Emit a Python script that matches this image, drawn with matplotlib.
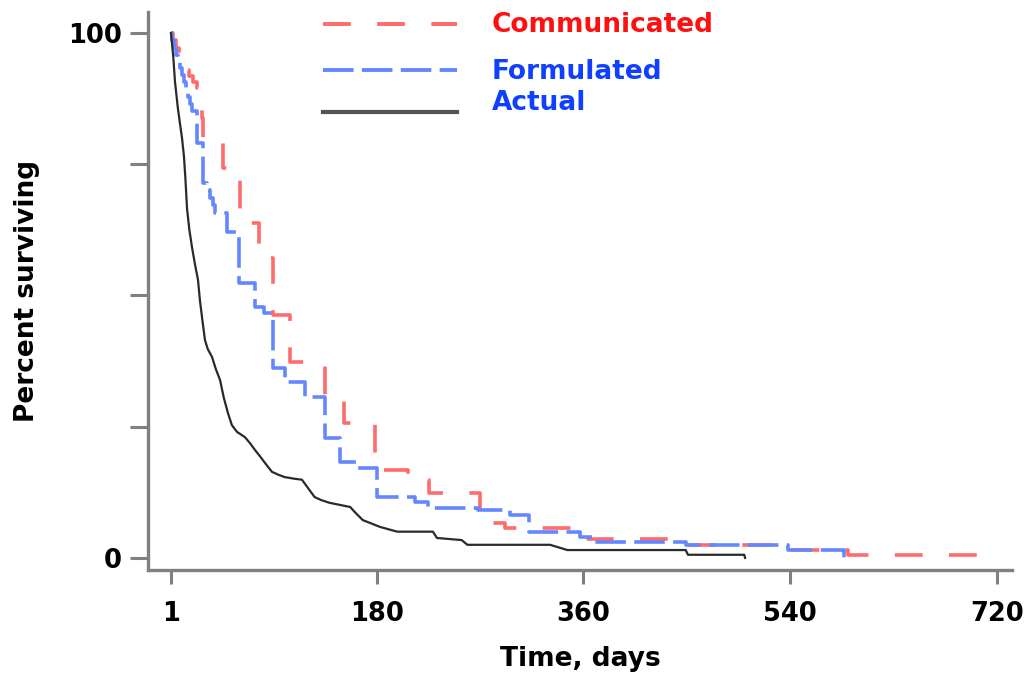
import matplotlib
matplotlib.use('Agg')
import matplotlib.pyplot as plt
from matplotlib.lines import Line2D

plt.rcParams['font.family'] = ['DejaVu Sans']
plt.rcParams['lines.scale_dashes'] = False

# Communicated (red dashed step curve)
comm_days = [1, 3, 5, 8, 11, 13, 17, 20, 24, 25, 27, 28, 29, 46, 61, 78, 90, 105,
             135, 152, 179, 207, 226, 270, 292, 364, 451, 538, 590, 720]
comm_pct = [100, 98.7, 97.1, 95.6, 94.1, 93.0, 91.8, 90.7, 89.5, 87.6, 85.7, 83.8,
            79.2, 74.3, 63.8, 57.1, 46.3, 37.3, 30.1, 25.7, 16.8, 14.9, 12.4, 6.7,
            5.7, 3.6, 2.5, 1.5, 0.6, 0.6]

# Formulated (blue dashed step curve)
form_days = [1, 2, 4, 5, 7, 9, 11, 12, 14, 16, 18, 19, 24, 29, 32, 35, 38, 39, 50,
             60, 74, 82, 90, 100, 118, 135, 148, 164, 180, 213, 225, 268, 296, 313,
             357, 370, 449, 538, 587]
form_pct = [100, 98.7, 97.1, 95.8, 94.5, 93.3, 92.0, 90.7, 89.1, 87.8, 86.5, 85.2,
            79.0, 71.4, 70.1, 68.6, 67.2, 65.7, 62.1, 52.4, 47.8, 46.7, 36.2, 33.5,
            30.7, 22.9, 18.3, 17.1, 11.6, 10.7, 9.5, 9.1, 8.2, 5.0, 4.0, 3.0, 2.5,
            1.5, 0]

# Actual (black solid curve)
act_days = [1, 3, 4.5, 7, 9, 10.6, 12.3, 13.5, 15, 17, 19.3, 22, 24.5, 26.2, 28.5,
            30.6, 33, 36.7, 40, 43.7, 47, 50.6, 54, 58.5, 62, 65.4, 70, 74, 78,
            82.8, 88.9, 95, 100, 108, 115, 120, 126, 132, 139, 148, 157, 162, 168,
            175, 183, 198, 229, 232.5, 254, 259, 331, 346, 449, 451, 500, 500.7]
act_pct = [100, 95.5, 90.7, 85.7, 82.5, 80.0, 76.5, 72.5, 66.5, 62.5, 59.2, 55.8,
           53.0, 49.1, 45.0, 41.5, 39.8, 38.3, 36.0, 33.9, 30.5, 27.6, 25.3, 24.0,
           23.5, 23.0, 21.8, 20.6, 19.5, 18.1, 16.4, 15.8, 15.4, 15.1, 14.9, 13.4,
           11.6, 11.0, 10.5, 10.1, 9.7, 8.5, 7.2, 6.6, 5.9, 5.0, 5.0, 3.8, 3.4, 2.5,
           2.5, 1.5, 1.5, 0.6, 0.6, 0]

x_ticks = [1, 180, 360, 540, 720]
y_ticks = [0, 25, 50, 75, 100]
y_labels = ['0', '', '', '', '100']

red = '#FF6B6B'
blue = '#6487FF'
gray = '#808080'

fig = plt.figure(figsize=(10.32, 6.78), dpi=100)
ax = fig.add_axes([0.1434, 0.1593, 0.8372, 0.823])

ax.step(comm_days, comm_pct, where='post', color=red, lw=2.6, dashes=(20, 19))
ax.step(form_days, form_pct, where='post', color=blue, lw=2.6, dashes=(22, 6))
ax.plot(act_days, act_pct, color='#2a2a2a', lw=1.6)

ax.set_xlim(-19, 733)
ax.set_ylim(-2.3, 104)

for s in ['top', 'right']:
    ax.spines[s].set_visible(False)
for s in ['left', 'bottom']:
    ax.spines[s].set_color(gray)
    ax.spines[s].set_linewidth(2.4)

ax.set_xticks(x_ticks)
ax.set_xticklabels([str(t) for t in x_ticks])
ax.set_yticks(y_ticks)
ax.set_yticklabels(y_labels)
ax.tick_params(axis='x', length=10, width=2.2, color=gray, pad=12,
               labelsize=18.5)
ax.tick_params(axis='y', length=13, width=2.2, color=gray, pad=6,
               labelsize=18.5)
for lab in ax.get_xticklabels() + ax.get_yticklabels():
    lab.set_fontweight('bold')

ax.set_xlabel('Time, days', fontsize=19, fontweight='bold', labelpad=14)
ax.set_ylabel('Percent surviving', fontsize=19, fontweight='bold', labelpad=20)

# legend drawn by hand
fig.add_artist(Line2D([0.313, 0.443], [0.9646, 0.9646], transform=fig.transFigure,
                      color=red, lw=2.8, dashes=(20, 19)))
fig.add_artist(Line2D([0.313, 0.443], [0.8968, 0.8968], transform=fig.transFigure,
                      color=blue, lw=2.8, dashes=(22, 6)))
fig.add_artist(Line2D([0.313, 0.443], [0.8348, 0.8348], transform=fig.transFigure,
                      color='#555555', lw=3))
fig.text(0.4767, 0.963, 'Communicated', color='#FF1010', fontsize=19,
         fontweight='bold', va='center', ha='left')
fig.text(0.4767, 0.894, 'Formulated', color='#1040FF', fontsize=19,
         fontweight='bold', va='center', ha='left')
fig.text(0.4767, 0.848, 'Actual', color='#1040FF', fontsize=19,
         fontweight='bold', va='center', ha='left')

fig.savefig('out.png', dpi=100, facecolor='white')
